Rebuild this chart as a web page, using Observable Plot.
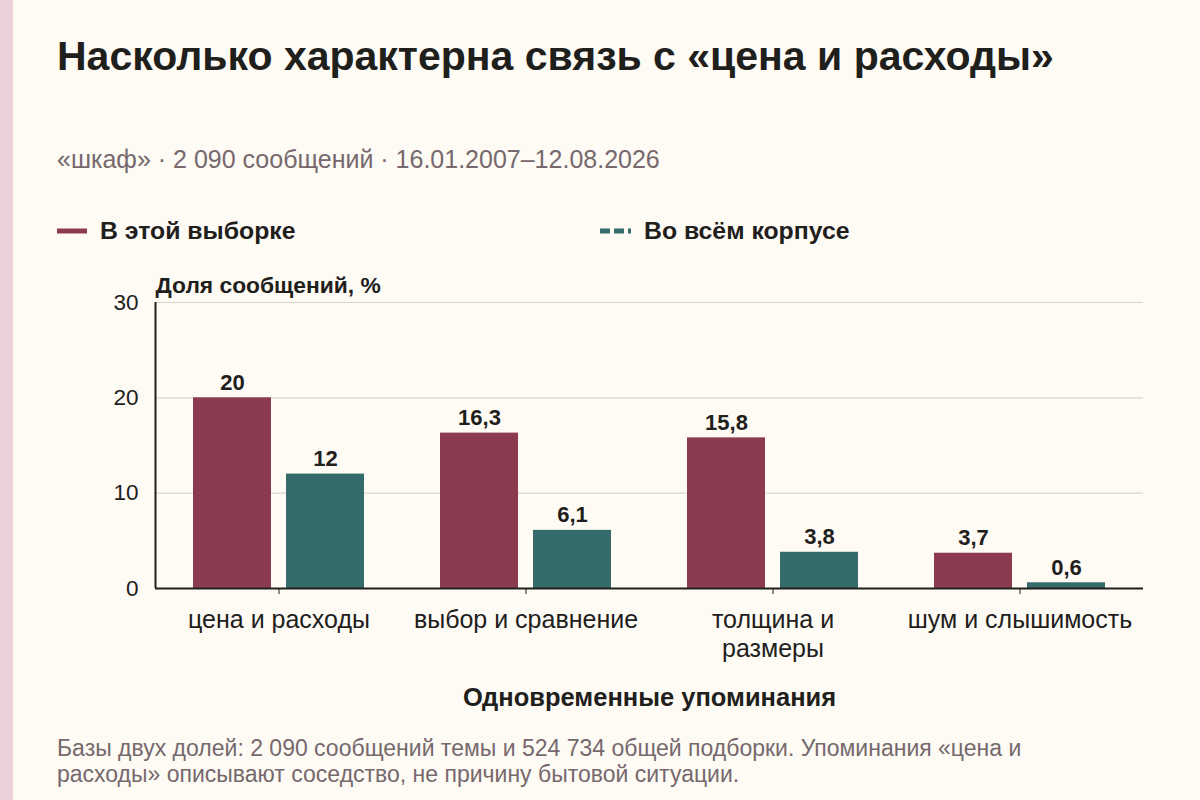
<!DOCTYPE html>
<html><head><meta charset="utf-8">
<script src="https://cdn.jsdelivr.net/npm/d3@7"></script>
<script src="https://cdn.jsdelivr.net/npm/@observablehq/plot@0.6"></script>
<style>
html,body{margin:0;padding:0;}
body{width:1200px;height:800px;background:#fdfbf4;position:relative;overflow:hidden;font-family:"Liberation Sans",Arial,sans-serif;color:#1f201c;}
#strip{position:absolute;left:0;top:0;width:13px;height:800px;background:#ecd2d8;}
#title{position:absolute;left:57px;top:33px;font-size:41px;font-weight:bold;color:#1f201c;white-space:nowrap;}
#sub{position:absolute;left:57px;top:145px;font-size:25px;color:#76686d;white-space:nowrap;}
.leg{position:absolute;top:217px;font-size:24.8px;font-weight:bold;white-space:nowrap;display:flex;align-items:center;}
.leg svg{margin-right:13px;}
#chart{position:absolute;left:0;top:260px;}
#foot{position:absolute;left:57px;top:735px;font-size:23px;line-height:26px;color:#76686d;width:1010px;}
</style></head>
<body>
<div id="strip"></div>
<div id="title">Насколько характерна связь с «цена и расходы»</div>
<div id="sub">«шкаф» · 2 090 сообщений · 16.01.2007–12.08.2026</div>
<div class="leg" style="left:57px"><svg width="30" height="8"><line x1="0" x2="30" y1="4" y2="4" stroke="#8b3a50" stroke-width="5"/></svg>В этой выборке</div>
<div class="leg" style="left:600px"><svg width="31" height="8"><line x1="0" x2="31" y1="4" y2="4" stroke="#356b6a" stroke-width="5" stroke-dasharray="10 4"/></svg>Во всём корпусе</div>
<div id="chart"></div>
<div id="foot">Базы двух долей: 2 090 сообщений темы и 524 734 общей подборки. Упоминания «цена и расходы» описывают соседство, не причину бытовой ситуации.</div>
<script>
const categories = ["цена и расходы", "выбор и сравнение", "толщина и размеры", "шум и слышимость"];
const tickLabels = ["цена и расходы", "выбор и сравнение", "толщина и\nразмеры", "шум и слышимость"];
const sampleValues = [20, 16.3, 15.8, 3.7];
const corpusValues = [12, 6.1, 3.8, 0.6];
const yTicks = [0, 10, 20, 30];

const colA = "#8b3a50", colB = "#356b6a";
const sample = categories.map((c, i) => ({cat: c, v: sampleValues[i]}));
const corpus = categories.map((c, i) => ({cat: c, v: corpusValues[i]}));
const fmt = v => String(v).replace(".", ",");
const labelOf = Object.fromEntries(categories.map((c, i) => [c, tickLabels[i]]));

const W = 1200, ML = 155, MR = 57;
const step = (W - ML - MR) / categories.length;

const plot = Plot.plot({
  width: W, height: 470,
  marginLeft: ML, marginRight: MR, marginTop: 42, marginBottom: 142,
  style: {background: "transparent", fontFamily: "Liberation Sans, Arial, sans-serif", color: "#1f201c"},
  x: {domain: categories, paddingInner: 0.308, paddingOuter: 0.154},
  y: {domain: [0, 30]},
  marks: [
    Plot.ruleY(yTicks.filter(d => d > 0), {stroke: "#d8d5ce", strokeWidth: 1.2}),
    Plot.barY(sample, {x: "cat", y: "v", fill: colA, insetRight: 93}),
    Plot.barY(corpus, {x: "cat", y: "v", fill: colB, insetLeft: 93}),
    Plot.text(sample, {x: "cat", y: "v", text: d => fmt(d.v), dx: -46.5, dy: -8, lineAnchor: "bottom", fontSize: 22, fontWeight: "bold", fill: "#1f201c"}),
    Plot.text(corpus, {x: "cat", y: "v", text: d => fmt(d.v), dx: 46.5, dy: -8, lineAnchor: "bottom", fontSize: 22, fontWeight: "bold", fill: "#1f201c"}),
    Plot.axisY({ticks: yTicks, tickSize: 0, tickPadding: 17, fontSize: 22.5, label: null, tickFormat: d => d}),
    Plot.axisX({tickSize: 6, tickPadding: 13, fontSize: 25, lineHeight: 1.16, label: null, tickFormat: d => labelOf[d], stroke: "#1f201c"}),
    Plot.ruleY([0], {stroke: "#1f201c", strokeWidth: 2}),
    Plot.ruleX([categories[0]], {y1: 0, y2: 30, dx: -step / 2, stroke: "#1f201c", strokeWidth: 2}),
    Plot.text(["Доля сообщений, %"], {frameAnchor: "top-left", textAnchor: "start", dy: -26, fontSize: 22.8, fontWeight: "bold", fill: "#1f201c"}),
    Plot.text(["Одновременные упоминания"], {frameAnchor: "bottom", dy: 117, fontSize: 25.5, fontWeight: "bold", fill: "#1f201c"})
  ]
});
document.getElementById("chart").appendChild(plot);
</script>
</body></html>
